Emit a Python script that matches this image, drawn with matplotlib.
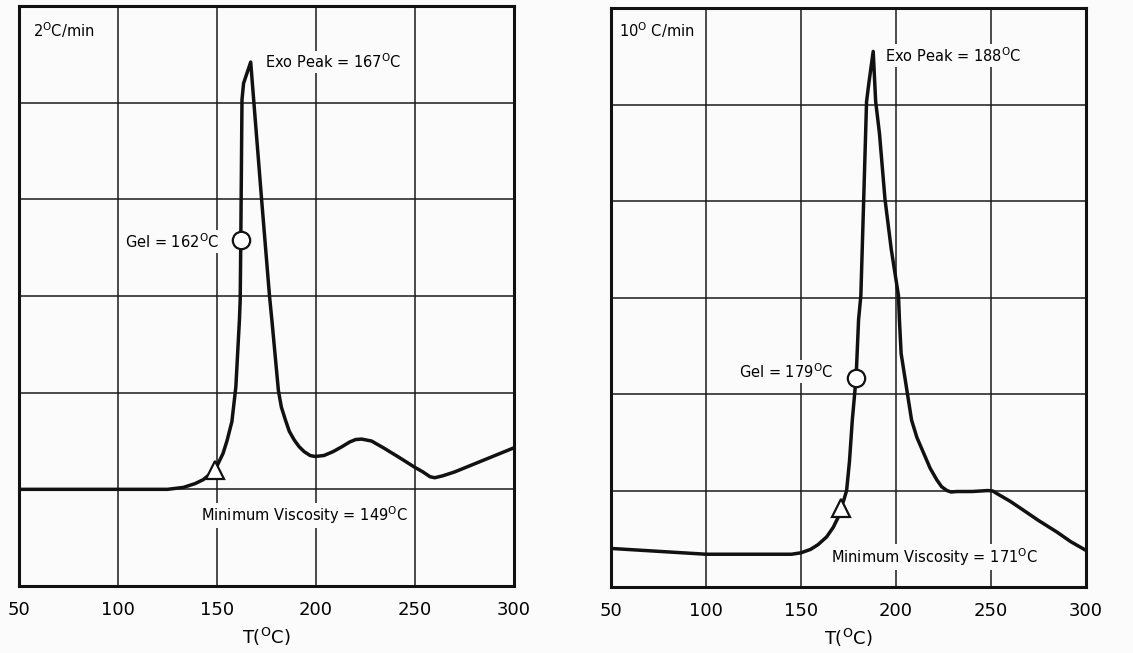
import matplotlib
matplotlib.use("Agg")
import matplotlib.pyplot as plt
from matplotlib.ticker import MultipleLocator

plt.rcParams["font.family"] = ["DejaVu Sans"]
plt.rcParams["mathtext.fontset"] = "custom"
plt.rcParams["mathtext.rm"] = "DejaVu Sans"
plt.rcParams["mathtext.it"] = "DejaVu Sans"

# 2 °C/min run: temperature (°C) and response (grid units)
t_slow = [50, 100, 125, 133, 139, 143, 146, 149, 153, 155, 157.5, 159.5, 161.3,
          161.7, 162.0, 162.3, 162.6, 163.4, 167, 168.5, 172.5, 176.5, 177.7,
          181, 182.5, 184.5, 186.5, 189, 191.5, 194, 197, 199.5, 204, 208.6,
          213, 217, 220, 223, 228, 234, 242, 249.7, 254, 257.6, 260, 264, 270,
          276, 288, 300]
r_slow = [1.00, 1.00, 1.00, 1.02, 1.06, 1.10, 1.15, 1.20, 1.37, 1.50, 1.70, 2.06, 2.75,
          2.96, 3.58, 4.30, 5.03, 5.20, 5.42, 5.03, 4.00, 3.00, 2.75,
          2.02, 1.85, 1.72, 1.60, 1.51, 1.44, 1.39, 1.35, 1.34, 1.35, 1.39,
          1.44, 1.49, 1.515, 1.52, 1.50, 1.43, 1.33, 1.23, 1.18, 1.13, 1.12, 1.14, 1.18,
          1.23, 1.33, 1.43]

# 10 °C/min run
t_fast = [50, 75, 100, 125, 145, 150, 155, 159, 163.5, 167, 169.5, 171, 172.5,
          174, 175.5, 177, 179, 180.3, 181.5, 183, 184.5, 185.7, 188, 189.3,
          191.3, 194.2, 197.5, 201.3, 201.8, 202.7, 205.8, 208.2, 211, 214.5,
          218, 221.5, 224, 226.8, 229, 232, 240, 248.4, 251, 253, 260, 266.8,
          275, 284.7, 292, 300]
r_fast = [0.40, 0.37, 0.34, 0.34, 0.34, 0.355, 0.39, 0.44, 0.52, 0.62, 0.72, 0.82, 0.90,
          1.00, 1.30, 1.73, 2.17, 2.77, 3.02, 4.02, 5.03, 5.22, 5.55, 5.03,
          4.70, 4.02, 3.50, 3.02, 2.77, 2.42, 2.03, 1.73, 1.55, 1.39,
          1.23, 1.11, 1.04, 1.00, 0.985, 0.99, 0.99, 1.00, 0.995, 0.97, 0.89, 0.80,
          0.69, 0.57, 0.47, 0.38]

# characteristic temperatures (°C)
slow_events = {"min_visc": 149, "gel": 162, "peak": 167}
fast_events = {"min_visc": 171, "gel": 179, "peak": 188}

x_ticks = [50, 100, 150, 200, 250, 300]
deg = r"$^{\mathrm{O}}$"


def interp(x, xs, ys):
    for i in range(len(xs) - 1):
        if xs[i] <= x <= xs[i + 1]:
            f = (x - xs[i]) / (xs[i + 1] - xs[i])
            return ys[i] + f * (ys[i + 1] - ys[i])
    return ys[-1]


bg = "#fbfbfb"
fig = plt.figure(figsize=(11.33, 6.53), dpi=100, facecolor=bg)
ax1 = fig.add_axes([0.0168, 0.1026, 0.4369, 0.8882])
ax2 = fig.add_axes([0.5393, 0.1010, 0.4192, 0.8867])

label_box = dict(facecolor=bg, edgecolor="none", pad=1.5)
ann_size = 10.5


def setup(ax):
    ax.set_facecolor(bg)
    ax.set_xlim(50, 300)
    ax.set_ylim(0, 6)
    ax.yaxis.set_major_locator(MultipleLocator(1))
    ax.set_xticks(x_ticks)
    ax.set_xticklabels([str(v) for v in x_ticks], fontsize=13)
    ax.set_yticklabels([])
    ax.tick_params(axis="both", length=0, pad=11)
    ax.grid(True, color="#1a1a1a", linewidth=1.1)
    ax.set_axisbelow(True)
    for s in ax.spines.values():
        s.set_linewidth(2.2)
        s.set_color("#111111")
    ax.set_xlabel("T(" + deg + "C)", fontsize=13, labelpad=5)


def draw(ax, t, r, ev, rate_label, lbl):
    setup(ax)
    ax.plot(t, r, color="#111111", linewidth=2.5, zorder=3,
            solid_joinstyle="round", solid_capstyle="round")
    ax.plot(ev["gel"], interp(ev["gel"], t, r), marker="o", markersize=12.5,
            markerfacecolor="white", markeredgecolor="#111111",
            markeredgewidth=1.6, zorder=5)
    ax.plot(ev["min_visc"], interp(ev["min_visc"], t, r), marker="^",
            markersize=13, markerfacecolor="white", markeredgecolor="#111111",
            markeredgewidth=1.6, zorder=5)
    ax.text(lbl["rate"][0], lbl["rate"][1], rate_label, fontsize=ann_size,
            ha="left", va="center", bbox=label_box, zorder=4)
    ax.text(lbl["peak"][0], lbl["peak"][1], "Exo Peak = %d" % ev["peak"] + deg + "C",
            fontsize=ann_size, ha="left", va="center", bbox=label_box, zorder=4)
    ax.text(lbl["gel"][0], lbl["gel"][1], "Gel = %d" % ev["gel"] + deg + "C",
            fontsize=ann_size, ha="right", va="center", bbox=label_box, zorder=4)
    ax.text(lbl["min"][0], lbl["min"][1],
            "Minimum Viscosity = %d" % ev["min_visc"] + deg + "C",
            fontsize=ann_size, ha="left", va="center", bbox=label_box, zorder=4)


draw(ax1, t_slow, r_slow, slow_events, "2" + deg + "C/min",
     {"rate": (57, 5.75), "peak": (174, 5.42), "gel": (151, 3.56), "min": (142, 0.73)})
draw(ax2, t_fast, r_fast, fast_events, "10" + deg + " C/min",
     {"rate": (54, 5.77), "peak": (194, 5.51), "gel": (166.8, 2.23), "min": (165.8, 0.31)})

fig.savefig("out.png", dpi=100, facecolor=fig.get_facecolor())
